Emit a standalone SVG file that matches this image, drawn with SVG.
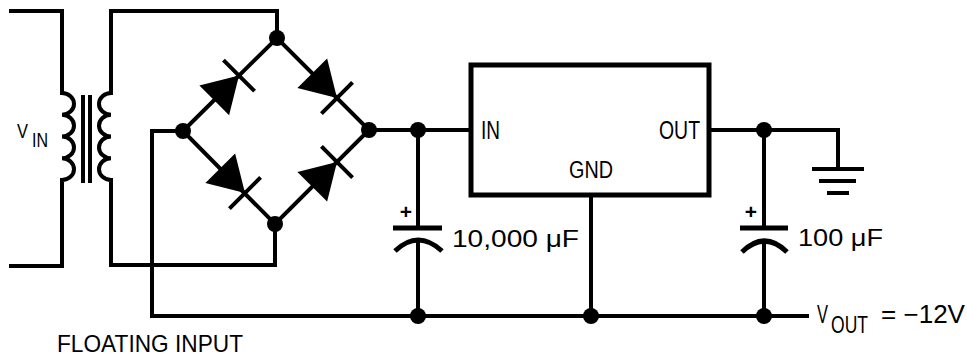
<svg xmlns="http://www.w3.org/2000/svg" width="967" height="356" viewBox="0 0 967 356">
<style>
.w{fill:none;stroke:#000;stroke-width:4;stroke-linejoin:miter;stroke-linecap:butt}
.p{fill:none;stroke:#000;stroke-width:5}
.t{font-family:"Liberation Sans",Arial,sans-serif;fill:#000}
.dot{fill:#000}
</style>
<defs>
<g id="diode">
<polygon points="-35,-21 -35,21 0,0" fill="#000"/>
<line x1="0" y1="-22" x2="0" y2="22" stroke="#000" stroke-width="4"/>
</g>
</defs>
<rect width="967" height="356" fill="#fff"/>
<g id="connectors">
<path class="w" d="M9,11 H62 V93 a12,10.875 0 0 1 0,21.75 a12,10.875 0 0 1 0,21.75 a12,10.875 0 0 1 0,21.75 a12,10.875 0 0 1 0,21.75 V266 H9"/>
<path class="w" d="M277,38 V11 H111 V93 a12,10.875 0 0 0 0,21.75 a12,10.875 0 0 0 0,21.75 a12,10.875 0 0 0 0,21.75 a12,10.875 0 0 0 0,21.75 V265 H275 V224"/>
<path class="w" d="M183,131 L277,38 L369,130 L275,224 Z"/>
<path class="w" d="M183,131 H152 V316 H809"/>
<path class="w" d="M369,130 H471"/>
<path class="w" d="M418,130 V228 M418,241 V316"/>
<path class="w" d="M591,195 V316"/>
<path class="w" d="M709,130 H838 V169"/>
<path class="w" d="M764,130 V228 M764,241 V316"/>
</g>
<g id="transformer-core">
<line class="w" x1="83" y1="95" x2="83" y2="183"/>
<line class="w" x1="90" y1="95" x2="90" y2="183"/>
</g>
<g id="vin-label">
<text class="t" x="17" y="138" font-size="21" textLength="11" lengthAdjust="spacingAndGlyphs">V</text>
<text class="t" x="32" y="147" font-size="21" textLength="16" lengthAdjust="spacingAndGlyphs">IN</text>
</g>
<g id="bridge">
<use href="#diode" transform="translate(239,75.6) rotate(-45)"/>
<use href="#diode" transform="translate(337,98) rotate(45)"/>
<use href="#diode" transform="translate(245,193) rotate(45)"/>
<use href="#diode" transform="translate(337,162) rotate(-45)"/>
</g>
<g id="regulator">
<rect class="p" x="471" y="65" width="238" height="130"/>
<text class="t" x="481" y="139" font-size="26" textLength="19" lengthAdjust="spacingAndGlyphs">IN</text>
<text class="t" x="659" y="139" font-size="26" textLength="41" lengthAdjust="spacingAndGlyphs">OUT</text>
<text class="t" x="569" y="178" font-size="23" textLength="44" lengthAdjust="spacingAndGlyphs">GND</text>
</g>
<g id="c1">
<path class="p" d="M393,228 H442"/>
<path class="p" d="M395,251 Q418,229 442,251"/>
<text class="t" x="406" y="219" font-size="21" font-weight="bold" text-anchor="middle">+</text>
<text class="t" x="452" y="247" font-size="24" textLength="127" lengthAdjust="spacingAndGlyphs">10,000 μF</text>
</g>
<g id="c2">
<path class="p" d="M740,228 H788"/>
<path class="p" d="M742,252 Q764.5,230 787,252"/>
<text class="t" x="751" y="219" font-size="21" font-weight="bold" text-anchor="middle">+</text>
<text class="t" x="798" y="246" font-size="24" textLength="85" lengthAdjust="spacingAndGlyphs">100 μF</text>
</g>
<g id="ground">
<path class="w" d="M812,169 H864 M819,181 H856 M827,193 H849"/>
</g>
<g id="nodes">
<circle class="dot" cx="277" cy="38" r="8"/>
<circle class="dot" cx="183" cy="131" r="8"/>
<circle class="dot" cx="369" cy="130" r="8"/>
<circle class="dot" cx="275" cy="224" r="8"/>
<circle class="dot" cx="418" cy="130" r="8"/>
<circle class="dot" cx="764" cy="130" r="8"/>
<circle class="dot" cx="418" cy="316" r="8"/>
<circle class="dot" cx="591" cy="316" r="8"/>
<circle class="dot" cx="764" cy="316" r="8"/>
</g>
<g id="vout-label">
<text class="t" x="817" y="323" font-size="25" textLength="11" lengthAdjust="spacingAndGlyphs">V</text>
<text class="t" x="831" y="333" font-size="23" textLength="37" lengthAdjust="spacingAndGlyphs">OUT</text>
<text class="t" x="881" y="323" font-size="25" textLength="84" lengthAdjust="spacingAndGlyphs">= −12V</text>
</g>
<g id="floating-label">
<text class="t" x="57" y="352" font-size="24" textLength="186" lengthAdjust="spacingAndGlyphs">FLOATING INPUT</text>
</g>
</svg>
